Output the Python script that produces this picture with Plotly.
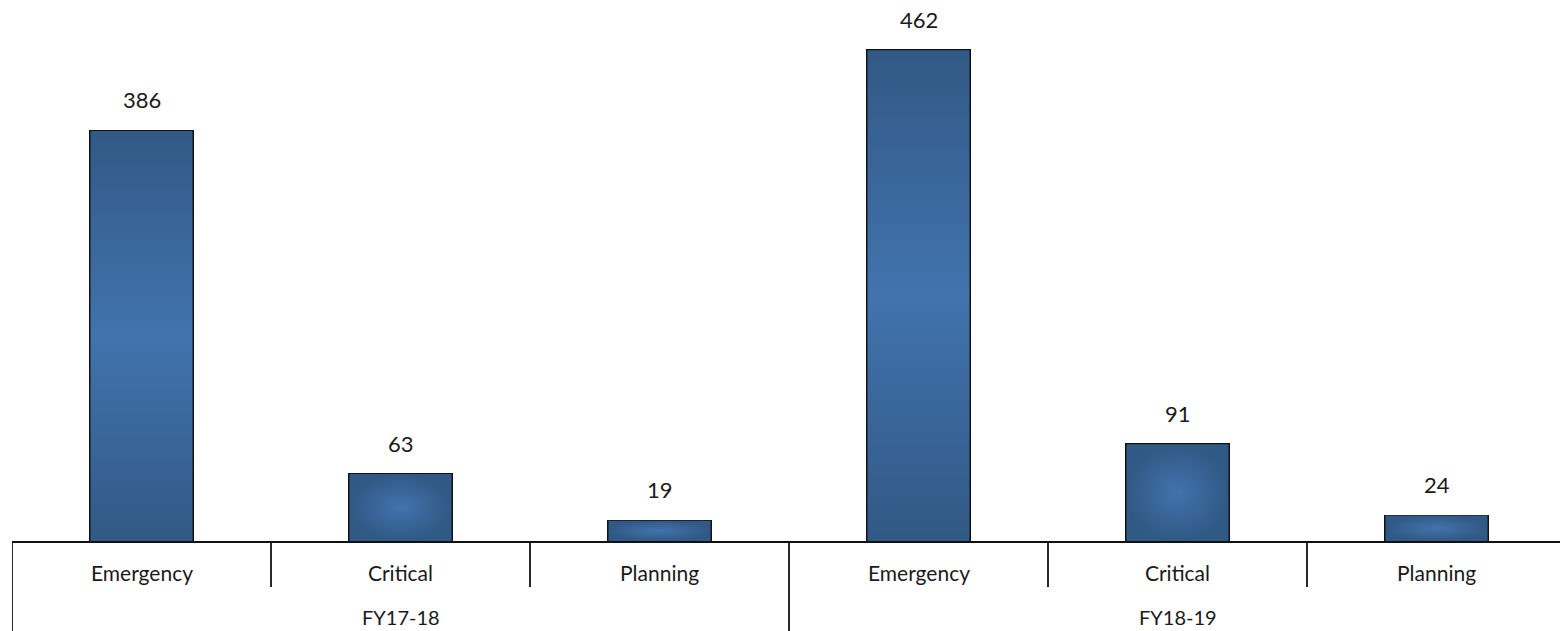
import plotly.graph_objects as go

# Request counts by priority for two fiscal years
years = ["FY17-18", "FY18-19"]
priorities = ["Emergency", "Critical", "Planning"]
counts_fy1718 = [386, 63, 19]
counts_fy1819 = [462, 91, 24]

values = counts_fy1718 + counts_fy1819
labels = priorities * len(years)
xpos = list(range(len(values)))

BAR_W = 0.394
FONT = "Lato"
TXT = "#1a1a1a"
DARK, LIGHT = "#315985", "#4273ad"

fig = go.Figure()

# shading inside each bar: banded for tall bars, radial for short ones
for x, v in zip(xpos, values):
    x0, x1 = x - BAR_W / 2, x + BAR_W / 2
    if v > 150:
        grad = dict(type="vertical", start=0, stop=v,
                    colorscale=[[0, DARK], [0.5, LIGHT], [1, DARK]])
    else:
        grad = dict(type="radial", colorscale=[[0, LIGHT], [1, DARK]])
    fig.add_trace(go.Scatter(
        x=[x0, x1, x1, x0, x0], y=[0, 0, v, v, 0],
        mode="lines", fill="toself", line=dict(width=0),
        fillgradient=grad, hoverinfo="skip", showlegend=False,
    ))

# bar outlines carrying the values
fig.add_trace(go.Bar(
    x=xpos, y=values, width=BAR_W,
    marker=dict(color="rgba(0,0,0,0)", line=dict(color="#111111", width=2)),
    showlegend=False, hoverinfo="x+y",
))

# value labels above bars
for x, v in zip(xpos, values):
    fig.add_annotation(x=x, y=v, text=str(v), showarrow=False,
                       yanchor="middle", yshift=31,
                       font=dict(family=FONT, size=22, color=TXT))

PLOT_H = 541
# category labels and group labels below the axis
for x, lab in zip(xpos, labels):
    fig.add_annotation(x=x, y=-31 / PLOT_H, yref="paper", text=lab,
                       showarrow=False, yanchor="middle", borderpad=0,
                       font=dict(family=FONT, size=21, color=TXT))
n = len(priorities)
for i, yr in enumerate(years):
    fig.add_annotation(x=i * n + (n - 1) / 2, y=-76 / PLOT_H, yref="paper",
                       text=yr, showarrow=False, yanchor="middle", borderpad=0,
                       font=dict(family=FONT, size=20, color=TXT))

# divider lines: short ones between priorities, long ones between years
shapes = []
for k in range(len(values)):
    xb = k - 0.5
    full = (k % n == 0)
    shapes.append(dict(type="line", xref="x", yref="paper",
                       x0=xb, x1=xb, y0=0,
                       y1=(-100 / PLOT_H) if full else (-46 / PLOT_H),
                       line=dict(color="#111111", width=1.8)))
fig.update_layout(shapes=shapes)

fig.update_layout(
    width=1560, height=631,
    margin=dict(l=12, r=0, t=0, b=90),
    paper_bgcolor="white", plot_bgcolor="white",
    xaxis=dict(range=[-0.5, -0.5 + 1548 / 259], showgrid=False,
               zeroline=False, showticklabels=False, ticks="",
               showline=True, linecolor="#111111", linewidth=1.8),
    yaxis=dict(range=[0, 509.3], visible=False),
    bargap=0,
)

fig.write_html("out.html")
